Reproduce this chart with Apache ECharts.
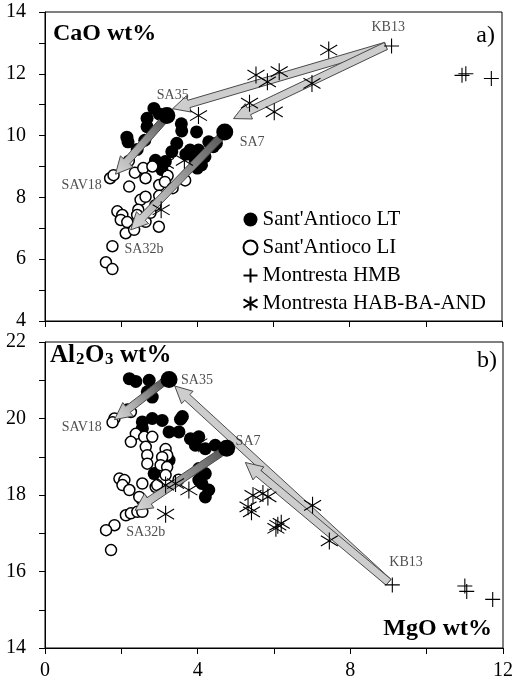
<!DOCTYPE html>
<html><head><meta charset="utf-8">
<script src="https://cdn.jsdelivr.net/npm/echarts@6/dist/echarts.min.js"></script>
<style>html,body{margin:0;padding:0;background:#fff}#c{width:516px;height:691px}</style>
</head><body><div id="c"></div>
<script>
// ---------- DATA ----------
const seriesNames = ["Sant'Antioco LT", "Sant'Antioco LI", "Montresta HMB", "Montresta HAB-BA-AND"];
const xTickLabels = [0, 4, 8, 12];
const topYTickLabels = [4, 6, 8, 10, 12, 14];
const botYTickLabels = [14, 16, 18, 20, 22];

// Top panel: MgO vs CaO
const topLT = [[2.86,10.88],[3.0,10.7],[2.68,10.56],[2.68,10.29],[2.15,9.95],[2.18,9.8],[2.42,9.55],[2.62,9.85],
  [3.58,10.38],[3.59,10.15],[3.98,10.12],[3.46,9.75],[3.33,9.48],[3.81,9.53],[4.03,9.53],[4.42,9.64],[4.2,9.32],
  [3.94,9.21],[4.11,9.05],[3.16,9.16],[3.07,8.9],[4.3,9.8],[4.5,9.75],[3.7,9.4],[2.9,9.2],[4.0,8.95]];
const topLTSamples = [[3.2,10.65],[4.72,10.12]];
const topLI = [[1.71,8.62],[1.8,8.72],[2.2,9.18],[2.36,8.8],[2.21,8.35],[2.58,8.95],[2.64,8.62],[2.82,9.0],[3.0,8.4],
  [3.22,8.7],[3.15,8.5],[3.68,8.55],[2.51,7.92],[2.64,8.02],[2.45,7.6],[1.9,7.55],[2.03,7.43],[1.99,7.27],[2.16,7.2],
  [2.12,6.84],[2.34,6.95],[2.42,7.43],[2.64,7.21],[2.77,7.5],[2.99,7.05],[1.77,6.42],[1.6,5.9],[1.77,5.68],[3.0,8.05],
  [3.35,8.3],[2.9,7.75]];
const topHMB = [[9.1,12.9],[10.95,11.95],[11.05,12.0],[11.72,11.85]];
const topHAB = [[7.45,12.77],[5.54,11.96],[6.15,12.07],[5.84,11.74],[7.01,11.69],[5.37,11.05],[6.02,10.77],[4.03,10.65],
  [3.05,7.6],[3.16,9.1],[3.66,9.2]];
// arrows: [fromX, fromY, toX, toY]
const topArrowsSA = [[3.15,10.55,1.85,8.75],[4.65,10.0,2.25,6.95]];
const topArrowsKB = [[8.95,12.9,3.35,10.87],[8.95,12.9,4.95,10.55]];
const topSampleLabels = [["SA35",3.2,10.65],["SAV18",1.75,8.65],["SA7",4.72,10.12],["SA32b",1.8,6.42],["KB13",9.1,12.9]];

// Bottom panel: MgO vs Al2O3
const botLT = [[2.21,21.04],[2.38,20.97],[2.73,21.0],[2.68,20.7],[2.81,20.56],[2.16,20.23],[2.55,19.91],[2.81,20.0],
  [3.07,19.95],[3.6,20.05],[3.55,19.98],[2.55,19.74],[3.25,19.65],[3.51,19.65],[3.81,19.47],[4.03,19.52],[3.94,19.3],
  [4.2,19.21],[4.46,19.3],[3.25,18.91],[2.86,18.56],[4.03,18.69],[4.2,18.56],[4.11,18.3],[4.29,18.13],[4.2,17.95],[4.03,18.39]];
const botLTSamples = [[3.25,21.02],[4.76,19.22]];
const botLI = [[1.82,20.0],[1.77,19.9],[2.25,20.17],[2.38,19.6],[2.25,19.39],[2.6,19.52],[2.81,19.52],[2.64,19.26],
  [2.68,19.04],[2.68,18.82],[3.16,19.2],[3.2,19.04],[3.07,18.99],[3.03,18.78],[3.2,18.73],[1.95,18.43],[2.08,18.39],
  [2.03,18.26],[2.21,18.13],[2.55,18.3],[2.55,17.86],[2.47,17.95],[2.9,18.21],[3.16,18.52],[2.12,17.47],[2.25,17.52],
  [2.42,17.56],[2.55,17.56],[1.82,17.21],[1.6,17.08],[1.73,16.56],[2.94,18.26],[3.5,18.4]];
const botHMB = [[9.1,15.65],[11.0,15.62],[11.05,15.48],[11.73,15.27]];
const botHAB = [[4.03,19.34],[3.16,18.26],[3.77,18.13],[3.16,17.5],[3.42,18.3],[5.32,17.69],[5.41,17.56],[5.71,18.04],
  [5.84,17.95],[5.45,17.99],[6.1,17.21],[6.19,17.26],[6.05,17.13],[7.01,17.73],[7.45,16.8]];
const botArrowsSA = [[3.1,20.95,1.82,19.97],[4.6,19.1,2.36,17.6]];
const botArrowsKB = [[9.0,15.72,3.4,20.85],[9.0,15.72,5.25,18.85]];
const botSampleLabels = [["SA35",3.25,21.02],["SAV18",1.8,19.95],["SA7",4.76,19.22],["SA32b",2.34,17.6],["KB13",9.1,15.65]];

// ---------- STYLE / LAYOUT ----------
const SERIF = "'Liberation Serif','Times New Roman',serif";
const labelOffsets = {
  top: {SA35:[-10,-20], SAV18:[-50,8], SA7:[15,10], SA32b:[11,3], KB13:[-20,-19]},
  bot: {SA35:[12,1], SAV18:[-52,7], SA7:[9,-7], SA32b:[-8,22], KB13:[-3,-23]}
};
const PLUS = 'path://M0,5L10,5M5,0L5,10';
const STAR = 'path://M5,0L5,10M0,2L10,8M0,8L10,2';

const chart = echarts.init(document.getElementById('c'), null, {renderer:'canvas'});

function arrowRender(shaded){
  return function(params, api){
    const p1 = api.coord([api.value(0), api.value(1)]);
    const p2 = api.coord([api.value(2), api.value(3)]);
    const dx = p2[0]-p1[0], dy = p2[1]-p1[1];
    const len = Math.hypot(dx, dy);
    const ux = dx/len, uy = dy/len, nx = -uy, ny = ux;
    const w = 3.8, hw = 8.5, hl = 17;
    const bx = p2[0]-ux*hl, by = p2[1]-uy*hl;
    const pts = [[p1[0]+nx*w,p1[1]+ny*w],[bx+nx*w,by+ny*w],[bx+nx*hw,by+ny*hw],[p2[0],p2[1]],
                 [bx-nx*hw,by-ny*hw],[bx-nx*w,by-ny*w],[p1[0]-nx*w,p1[1]-ny*w]];
    const fill = shaded
      ? new echarts.graphic.LinearGradient(p1[0],p1[1],p2[0],p2[1],[{offset:0,color:'#5a5a5a'},{offset:0.55,color:'#a8a8a8'},{offset:1,color:'#d6d6d6'}], true)
      : '#cdcdcd';
    return {type:'polygon', shape:{points:pts}, style:{fill:fill, stroke:'#4a4a4a', lineWidth:1}};
  };
}

function panelSeries(idx, LT, LTs, LI, HMB, HAB, arrSA, arrKB, labels, offs){
  const ax = {xAxisIndex:idx, yAxisIndex:idx, emphasis:{disabled:true}};
  return [
    Object.assign({type:'scatter', name:seriesNames[0], data:LT, symbol:'circle', symbolSize:13,
      itemStyle:{color:'#000', opacity:1}, z:2}, ax),
    Object.assign({type:'scatter', name:seriesNames[1], data:LI, symbol:'circle', symbolSize:11,
      itemStyle:{color:'#fff', borderColor:'#000', borderWidth:1.5, opacity:1}, z:3}, ax),
    Object.assign({type:'custom', name:'arrSA'+idx, data:arrSA, renderItem:arrowRender(true),
      encode:{x:[0,2], y:[1,3]}, z:4, silent:true}, ax),
    Object.assign({type:'custom', name:'arrKB'+idx, data:arrKB, renderItem:arrowRender(false),
      encode:{x:[0,2], y:[1,3]}, z:4, silent:true}, ax),
    Object.assign({type:'scatter', name:seriesNames[3], data:HAB, symbol:STAR, symbolSize:[17,17],
      itemStyle:{color:'none', borderColor:'#000', borderWidth:1.1, opacity:1}, z:5}, ax),
    Object.assign({type:'scatter', name:seriesNames[2], data:HMB, symbol:PLUS, symbolSize:[15,15],
      itemStyle:{color:'none', borderColor:'#000', borderWidth:1.1, opacity:1}, z:5}, ax),
    Object.assign({type:'scatter', name:seriesNames[0], data:LTs, symbol:'circle', symbolSize:17,
      itemStyle:{color:'#000', opacity:1}, z:6}, ax),
    Object.assign({type:'scatter', name:'labels'+idx, symbolSize:0.1, itemStyle:{color:'rgba(0,0,0,0)'}, z:7, silent:true,
      data: labels.map(l => ({value:[l[1], l[2]], name:l[0],
        label:{show:true, formatter:l[0], position:offs[l[0]], align:'left', verticalAlign:'middle',
          fontFamily:SERIF, fontSize:14, color:'#222'}}))}, ax)
  ];
}

const tickLabelStyle = {fontFamily:SERIF, fontSize:20, color:'#000'};
const axisLineStyle = {show:true, lineStyle:{color:'#000', width:1}};

const option = {
  animation:false,
  backgroundColor:'#fff',
  grid:[
    {left:45, top:12, width:457, height:309, show:true, borderColor:'#000', borderWidth:1, backgroundColor:'transparent'},
    {left:45, top:342, width:461, height:306, show:true, borderColor:'#000', borderWidth:1, backgroundColor:'transparent'}
  ],
  xAxis:[
    {gridIndex:0, type:'value', min:0, max:12, interval:2, axisLine:axisLineStyle,
     axisTick:{show:true, inside:false, length:6, lineStyle:{color:'#000'}}, axisLabel:{show:false}, splitLine:{show:false}},
    {gridIndex:1, type:'value', min:0, max:12, interval:2, axisLine:axisLineStyle,
     axisTick:{show:true, inside:false, length:6, lineStyle:{color:'#000'}},
     axisLabel:Object.assign({margin:13, formatter:v => xTickLabels.includes(v) ? String(v) : ''}, tickLabelStyle),
     splitLine:{show:false}}
  ],
  yAxis:[
    {gridIndex:0, type:'value', min:4, max:14, interval:1, axisLine:axisLineStyle,
     axisTick:{show:true, inside:false, length:6, lineStyle:{color:'#000'}},
     axisLabel:Object.assign({margin:19, formatter:v => topYTickLabels.includes(v) ? String(v) : ''}, tickLabelStyle),
     splitLine:{show:false}},
    {gridIndex:1, type:'value', min:14, max:22, interval:1, axisLine:axisLineStyle,
     axisTick:{show:true, inside:false, length:6, lineStyle:{color:'#000'}},
     axisLabel:Object.assign({margin:19, formatter:v => botYTickLabels.includes(v) ? String(v) : ''}, tickLabelStyle),
     splitLine:{show:false}}
  ],
  legend:{
    data:seriesNames, orient:'vertical', left:241, top:209, itemWidth:14, itemHeight:14, itemGap:7,
    padding:0, selectedMode:false, textStyle:{fontFamily:SERIF, fontSize:21, color:'#000'}
  },
  graphic:[
    {type:'text', left:53, top:22, style:{text:'CaO wt%', font:"bold 24px 'Liberation Serif'", fill:'#000'}},
    {type:'text', right:21, top:24, style:{text:'a)', font:"24px 'Liberation Serif'", fill:'#000'}},
    {type:'text', right:19, top:349, style:{text:'b)', font:"24px 'Liberation Serif'", fill:'#000'}},
    {type:'text', right:24, top:617, style:{text:'MgO wt%', font:"bold 24px 'Liberation Serif'", fill:'#000'}},
    {type:'group', left:50, top:343, children:[
      {type:'text', x:0, y:0, style:{text:'Al', font:"bold 25px 'Liberation Serif'", fill:'#000'}},
      {type:'text', x:26, y:8, style:{text:'2', font:"bold 17px 'Liberation Serif'", fill:'#000'}},
      {type:'text', x:35, y:0, style:{text:'O', font:"bold 25px 'Liberation Serif'", fill:'#000'}},
      {type:'text', x:55, y:8, style:{text:'3', font:"bold 17px 'Liberation Serif'", fill:'#000'}},
      {type:'text', x:70, y:0, style:{text:'wt%', font:"bold 25px 'Liberation Serif'", fill:'#000'}}
    ]}
  ],
  series:[].concat(
    panelSeries(0, topLT, topLTSamples, topLI, topHMB, topHAB, topArrowsSA, topArrowsKB, topSampleLabels, labelOffsets.top),
    panelSeries(1, botLT, botLTSamples, botLI, botHMB, botHAB, botArrowsSA, botArrowsKB, botSampleLabels, labelOffsets.bot)
  )
};
chart.setOption(option);
</script></body></html>
